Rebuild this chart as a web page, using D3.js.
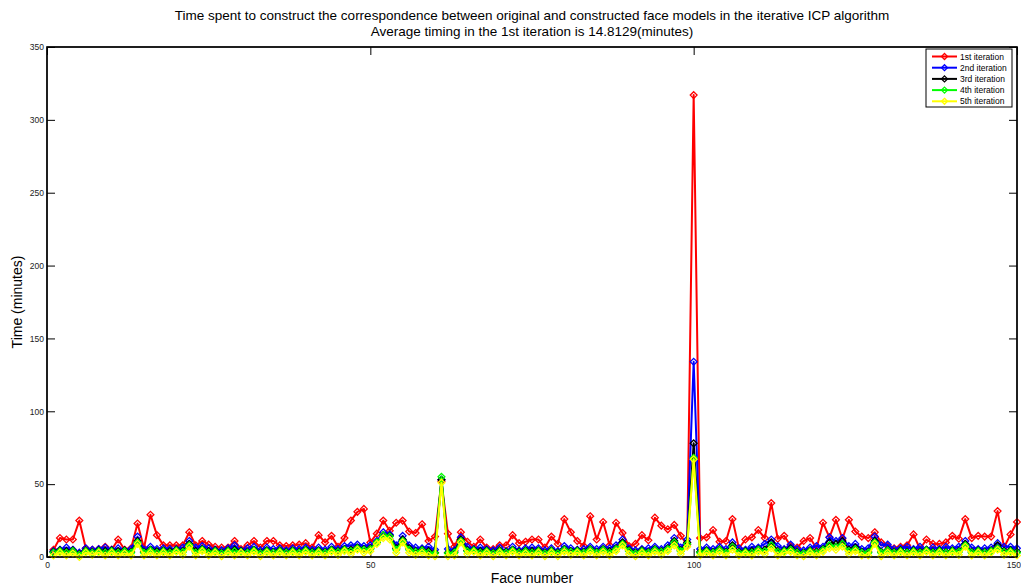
<!DOCTYPE html>
<html>
<head>
<meta charset="utf-8">
<script src="https://cdn.jsdelivr.net/npm/d3@7"></script>
<style>
  html, body { margin: 0; padding: 0; background: #fff; }
  svg { display: block; font-family: "Liberation Sans", Arial, sans-serif; }
</style>
</head>
<body>
<svg id="chart" width="1021" height="588"></svg>
<script>
const titleLines = [
  "Time spent to construct the correspondence between original and constructed face models in the iterative ICP algorithm",
  "Average timing in the 1st iteration is 14.8129(minutes)"
];
const xLabel = "Face number";
const yLabel = "Time (minutes)";
const xTicks = [0, 50, 100, 150];
const yTicks = [0, 50, 100, 150, 200, 250, 300, 350];
const seriesNames = ["1st iteration", "2nd iteration", "3rd iteration", "4th iteration", "5th iteration"];
const seriesColors = ["#ff0000", "#0000ff", "#000000", "#00ff00", "#ffff00"];

// Face numbers 1..150
const faces = d3.range(1, 151);

const iter1 = [
  5, 13, 12, 12, 25, 6, 5, 5.5, 7, 5,
  12, 5, 6, 23, 6, 29, 15, 8, 8, 8,
  8, 17, 8, 11, 8.5, 7, 6.5, 6.5, 11, 5.5,
  8, 11, 6.5, 11, 11, 8, 7.5, 8, 8.5, 9.5,
  6.5, 15, 10, 14.5, 7, 13, 25, 31, 33, 10,
  16, 25, 18, 23.5, 25, 17.5, 16.5, 22.5, 11, 14,
  52, 16, 7, 17, 10.5, 7, 12, 6.5, 5.5, 8,
  8, 15, 9.5, 10.5, 12, 12, 6.5, 14, 9, 26,
  17, 11, 7.5, 28, 12, 24, 8, 23.5, 16.5, 7.5,
  9, 15, 11.5, 27, 21.5, 19, 22, 14.5, 8.5, 317,
  13, 13.5, 18.5, 10.5, 11, 26, 6, 12, 13.5, 18.5,
  13, 37, 12.5, 14.5, 7.5, 6.5, 11, 13, 6, 23.5,
  13.5, 25.5, 12.5, 25.5, 17.5, 14, 13, 17, 10, 7.5,
  6, 7, 8, 15.5, 5.5, 12, 9, 9, 10, 14.5,
  12.5, 26, 13, 14.5, 14, 14, 31.5, 6.5, 15.5, 24
];

const iter2 = [
  4, 5, 6.5, 5, 3, 6, 5, 5.5, 6.5, 5,
  6, 4.5, 5.5, 14, 5, 7, 5.5, 6, 5.5, 5.5,
  6.5, 11, 6.5, 7.5, 6, 5, 4.5, 6, 8, 4.5,
  6, 7, 4.5, 6.5, 5.5, 6, 4.5, 6, 5.5, 6.5,
  5, 6.5, 5, 7, 5.5, 7.5, 8, 8.5, 7.5, 8,
  11, 17, 15.5, 8, 14.5, 8, 6.5, 6, 7, 5,
  53, 5.5, 4.5, 13.5, 7, 5.5, 6.5, 5.5, 4.5, 6.5,
  4, 7, 4.5, 6, 6.5, 6, 4.5, 6, 4, 7.5,
  6, 5, 5.5, 7, 5.5, 7, 6, 8, 12, 6,
  4.5, 5.5, 6, 7, 5.5, 8, 13, 6.5, 12, 134,
  5.5, 6.5, 5.5, 7, 5.5, 10, 6, 5, 7, 6.5,
  9, 12, 7.5, 5.5, 8.5, 5.5, 4.5, 6.5, 7.5, 7,
  13.5, 11, 13, 7.5, 9, 5.5, 6, 14, 8, 8.5,
  5.5, 6, 7, 5.5, 7, 5, 6.5, 5.5, 7, 6,
  7, 11, 6.5, 5.5, 6, 6.5, 9.5, 7, 7, 6
];

const iter3 = [
  3.5, 4.5, 4, 4.5, 2, 4.5, 3.5, 4.5, 4, 4.5,
  4, 4.5, 3.5, 11, 3.5, 5, 4, 4.5, 4, 5,
  4, 9, 4, 5.5, 4, 4.5, 3, 4.5, 5, 4,
  3.5, 5, 3, 4.5, 3.5, 4.5, 3.5, 4.5, 3.5, 5,
  3.5, 4.5, 3.5, 5, 4, 5.5, 5, 6.5, 5.5, 6,
  10, 15, 14.5, 6, 12, 6, 4, 5, 4, 3,
  53, 3, 3.5, 12, 4.5, 5, 4, 4.5, 3, 4.5,
  3.5, 5, 3.5, 4.5, 4, 4.5, 3, 4.5, 3, 5.5,
  4, 4.5, 3.5, 5.5, 3.5, 5.5, 4, 6, 10, 4.5,
  3, 4.5, 3.5, 5.5, 4, 6, 11, 4.5, 10, 78,
  3.5, 4.5, 3.5, 5.5, 3.5, 8, 3.5, 4, 4, 5.5,
  5, 10, 4, 4.5, 6, 3.5, 3, 4.5, 3.5, 5.5,
  10, 9, 11, 5, 6.5, 3.5, 3.5, 11, 3.5, 5,
  3.5, 4.5, 3.5, 4.5, 3.5, 5, 3.5, 4.5, 3.5, 4.5,
  4, 9, 3.5, 4.5, 3.5, 4.5, 8, 4, 4.5, 3.5
];

const iter4 = [
  3, 4, 3, 4, 1.5, 4, 3, 4, 3, 4,
  3, 4, 3, 10, 3, 4.5, 3, 4, 3, 4.5,
  3.5, 8, 3, 5, 3, 4, 2.5, 4, 4, 3.5,
  3, 4.5, 2.5, 4, 3, 4, 3, 4, 3, 4.5,
  3, 4, 3, 4.5, 3.5, 5, 4, 6, 5, 5.5,
  10, 15, 14, 5, 11, 5, 3.5, 4.5, 3, 2.5,
  55, 2.5, 3, 11, 4, 4.5, 3, 4, 2.5, 4,
  3, 4.5, 3, 4, 3, 4, 2.5, 4, 2.5, 5,
  3.5, 4, 3, 5, 3, 5, 3, 5.5, 9, 4,
  2.5, 4, 3, 5, 3.5, 5.5, 10, 4, 9, 68,
  3, 4, 3, 5, 3, 7, 3, 3.5, 3, 5,
  4, 8, 3.5, 4, 5, 3, 2.5, 4, 3, 5,
  8, 7, 9, 4, 5.5, 3, 3, 10, 3, 4.5,
  3, 4, 3, 4, 3, 4.5, 3, 4, 3, 4,
  3.5, 8, 3, 4, 3, 4, 6, 3.5, 4, 3
];

const iter5 = [
  1, 3, 1, 2.5, 0, 3, 1.5, 3, 1, 3,
  1, 2.5, 1, 9, 1, 3, 1, 3, 1, 3.5,
  1.5, 7, 1, 4, 1, 3, 0.5, 3, 1, 3,
  1, 3.5, 0.5, 3, 1, 3, 1, 3, 1, 3.5,
  1, 3, 1, 3.5, 1.5, 4, 2, 5, 3, 4,
  9, 13, 12, 3, 10, 3, 1.5, 3, 1, 0.5,
  51, 0.5, 1, 10, 2, 3.5, 1, 3, 0.5, 3,
  1, 3.5, 1, 2.5, 1, 3, 0.5, 3, 0.5, 3.5,
  1.5, 3, 1, 3.5, 1, 3.5, 1, 4, 8, 2,
  0.5, 3, 1, 3.5, 1.5, 4, 8, 2, 7, 67,
  1, 3, 1, 3.5, 1, 5, 1, 2.5, 1, 3.5,
  2, 6, 1, 3, 3.5, 1, 0.5, 3, 1, 3.5,
  6, 5, 7, 2, 4, 1, 1, 9, 0.5, 3,
  1, 3, 1, 3, 1, 3.5, 1, 3, 1, 3,
  1.5, 7, 1, 3, 1, 3, 5, 1.5, 3, 1
];

const allSeries = [iter1, iter2, iter3, iter4, iter5];

const svg = d3.select("#chart");
const L = 47, R = 1017, T = 47, B = 557;

const x = d3.scaleLinear().domain([0, 150]).range([L, R]);
const y = d3.scaleLinear().domain([0, 350]).range([B, T]);

// Frame
svg.append("rect")
  .attr("x", L).attr("y", T).attr("width", R - L).attr("height", B - T)
  .attr("fill", "#fff").attr("stroke", "#000").attr("stroke-width", 1.3);

// Axes with inward ticks
const tickStyle = g => {
  g.select(".domain").remove();
  g.selectAll(".tick line").attr("stroke", "#000").attr("stroke-width", 1);
  g.selectAll(".tick text").attr("fill", "#222").style("font-size", "8.5px")
    .style("font-family", "'Liberation Sans', Arial, sans-serif");
};

svg.append("g").attr("transform", `translate(${L},0)`)
  .call(d3.axisLeft(y).tickValues(yTicks).tickSize(-8).tickPadding(3).tickFormat(d3.format("d")))
  .call(tickStyle);
svg.append("g").attr("transform", `translate(${R},0)`)
  .call(d3.axisRight(y).tickValues(yTicks).tickSize(-8).tickFormat(""))
  .call(tickStyle);
const xAxisG = svg.append("g").attr("transform", `translate(0,${B})`)
  .call(d3.axisBottom(x).tickValues(xTicks).tickSize(-8).tickPadding(5).tickFormat(d3.format("d")))
  .call(tickStyle);
// keep the last tick label inside the window
xAxisG.selectAll(".tick text").filter(d => d === 150).attr("text-anchor", "end").attr("dx", "3.5");
svg.append("g").attr("transform", `translate(0,${T})`)
  .call(d3.axisTop(x).tickValues(xTicks).tickSize(-8).tickFormat(""))
  .call(tickStyle);

// Series
const line = d3.line().x((d, i) => x(faces[i])).y(d => y(d));
const diamond = r => `M0,${-r}L${r},0L0,${r}L${-r},0Z`;

allSeries.forEach((vals, si) => {
  const g = svg.append("g");
  g.append("path").datum(vals)
    .attr("d", line)
    .attr("fill", "none")
    .attr("stroke", seriesColors[si])
    .attr("stroke-width", 2)
    .attr("stroke-linejoin", "round");
  g.selectAll("path.mk").data(vals).enter().append("path")
    .attr("class", "mk")
    .attr("d", diamond(3.4))
    .attr("transform", (d, i) => `translate(${x(faces[i])},${y(d)})`)
    .attr("fill", "none")
    .attr("stroke", seriesColors[si])
    .attr("stroke-width", 1.3);
});

// Re-draw frame outline on top
svg.append("rect")
  .attr("x", L).attr("y", T).attr("width", R - L).attr("height", B - T)
  .attr("fill", "none").attr("stroke", "#000").attr("stroke-width", 1.3);

// Legend
const lg = svg.append("g");
lg.append("rect").attr("x", 926).attr("y", 49).attr("width", 86).attr("height", 58)
  .attr("fill", "#fff").attr("stroke", "#000").attr("stroke-width", 1);
seriesNames.forEach((name, i) => {
  const yy = 56.5 + i * 11.2;
  lg.append("line").attr("x1", 932).attr("x2", 957).attr("y1", yy).attr("y2", yy)
    .attr("stroke", seriesColors[i]).attr("stroke-width", 2);
  lg.append("path").attr("d", diamond(3)).attr("transform", `translate(944.5,${yy})`)
    .attr("fill", "none").attr("stroke", seriesColors[i]).attr("stroke-width", 1.3);
  lg.append("text").attr("x", 960).attr("y", yy + 3).text(name)
    .style("font-size", "8.5px").attr("fill", "#000");
});

// Titles
titleLines.forEach((t, i) => {
  svg.append("text").attr("x", (L + R) / 2).attr("y", 20 + i * 16)
    .attr("text-anchor", "middle").style("font-size", "13.5px").attr("fill", "#000").text(t);
});
svg.append("text").attr("x", (L + R) / 2).attr("y", 583)
  .attr("text-anchor", "middle").style("font-size", "14px").attr("fill", "#000").text(xLabel);
svg.append("text").attr("transform", `translate(22,${(T + B) / 2}) rotate(-90)`)
  .attr("text-anchor", "middle").style("font-size", "14px").attr("fill", "#000").text(yLabel);
</script>
</body>
</html>
